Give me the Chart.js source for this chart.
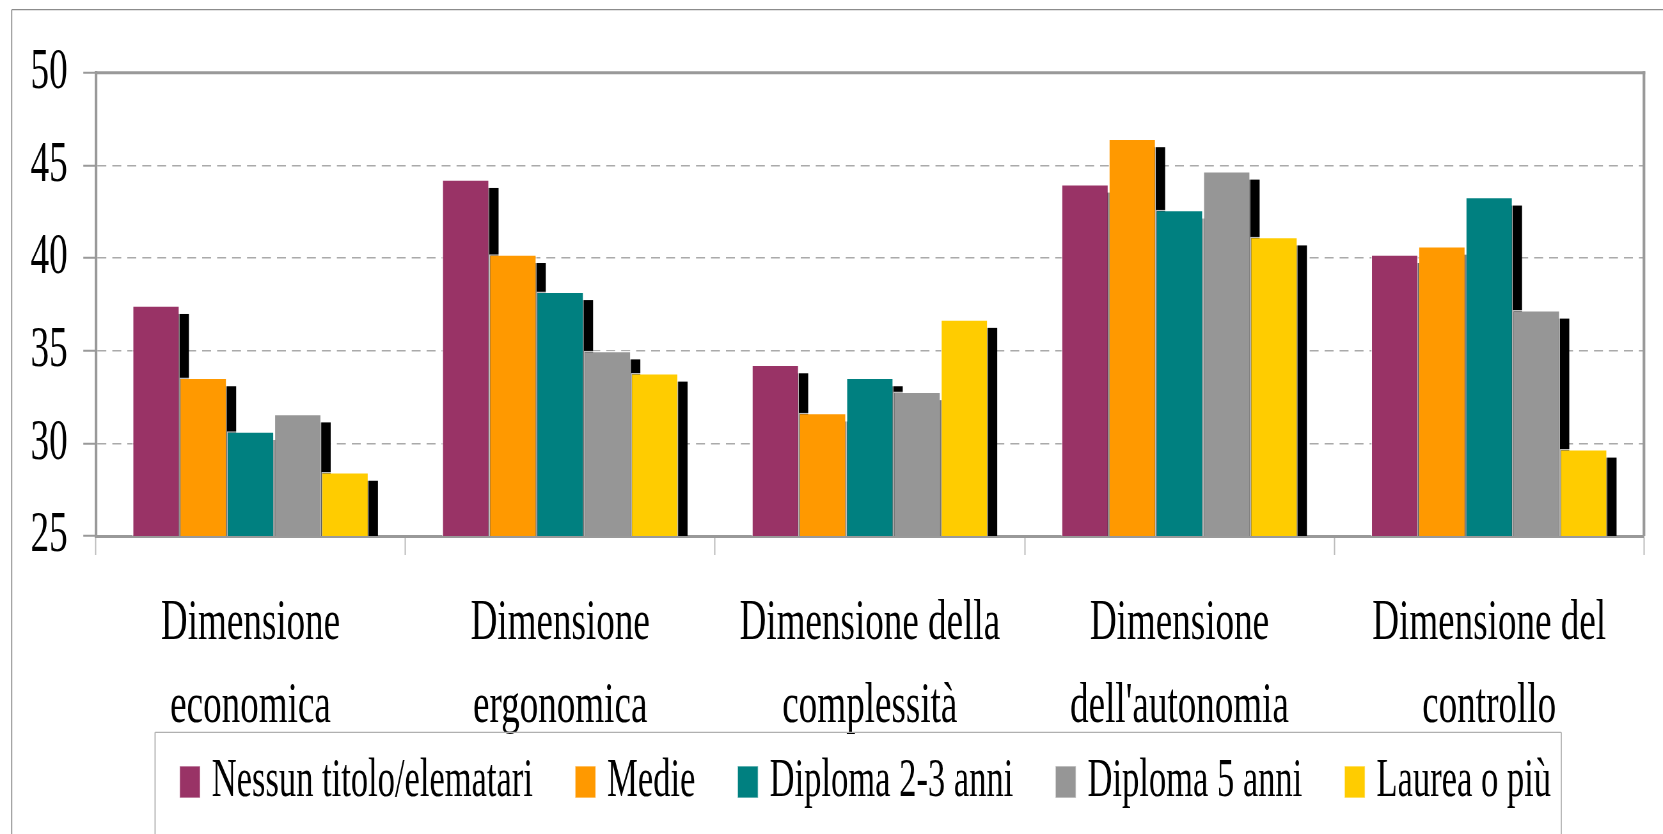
<!DOCTYPE html>
<html>
<head>
<meta charset="utf-8">
<script src="https://cdn.jsdelivr.net/npm/chart.js@4.4.0/dist/chart.umd.min.js"></script>
<style>
  html, body { margin: 0; padding: 0; background: #fff; overflow: hidden; }
  /* the original text is a horizontally squeezed Times: draw wide, then squeeze the whole canvas */
  #wrap { width: 2600px; height: 926px; transform: scaleX(0.6396); transform-origin: 0 0; }
</style>
</head>
<body>
<div id="wrap"><canvas id="chart"></canvas></div>
<script>
const categories = [
  ['Dimensione', 'economica'],
  ['Dimensione', 'ergonomica'],
  ['Dimensione della', 'complessità'],
  ['Dimensione', "dell'autonomia"],
  ['Dimensione del', 'controllo']
];
const seriesNames = ['Nessun titolo/elematari', 'Medie', 'Diploma 2-3 anni', 'Diploma 5 anni', 'Laurea o più'];
const seriesColors = ['#993366', '#FF9900', '#008080', '#969696', '#FFCC00'];

const nessun    = [37.45, 44.25, 34.25, 44.0, 40.2];
const medie     = [33.55, 40.2, 31.65, 46.45, 40.65];
const diploma23 = [30.65, 38.2, 33.55, 42.6, 43.3];
const diploma5  = [31.6, 35.0, 32.8, 44.7, 37.2];
const laurea    = [28.45, 33.8, 36.7, 41.15, 29.7];
const yTicks = [25, 30, 35, 40, 45, 50];

const seriesValues = [nessun, medie, diploma23, diploma5, laurea];
const font = 'Liberation Serif';
const legendFont = 54;
const legendPad = 66;
const swatch = 32;

// black drop shadow behind each bar + frames + legend swatches
const framePlugin = {
  id: 'frame',
  afterLayout(chart) {
    // legend sits partly over the x labels area in the original
    const lg = chart.legend;
    const shift = (782 - legendPad - legendFont / 2) - lg.top;
    lg.top += shift;
    lg.bottom += shift;
    lg.left -= 7;
    lg.right -= 7;
  },
  beforeDatasetsDraw(chart) {
    const ctx = chart.ctx;
    const a = chart.chartArea;
    ctx.save();
    ctx.beginPath();
    ctx.rect(a.left, a.top, a.right - a.left, a.bottom - a.top);
    ctx.clip();
    ctx.fillStyle = '#000';
    chart.data.datasets.forEach((ds, i) => {
      chart.getDatasetMeta(i).data.forEach(bar => {
        const p = bar.getProps(['x', 'y', 'base', 'width'], true);
        const top = p.y + 8.7;
        ctx.fillRect(p.x - p.width / 2 + 14.5, top, p.width, p.base - top);
      });
    });
    ctx.restore();
  },
  afterDraw(chart) {
    const ctx = chart.ctx;
    const a = chart.chartArea;
    ctx.save();
    // top and right of the plot frame
    ctx.strokeStyle = '#999';
    ctx.lineWidth = 3;
    ctx.beginPath(); ctx.moveTo(a.left, a.top); ctx.lineTo(a.right + 2, a.top); ctx.stroke();
    ctx.lineWidth = 4.2;
    ctx.beginPath(); ctx.moveTo(a.right, a.top - 1.5); ctx.lineTo(a.right, a.bottom); ctx.stroke();
    // outer frame
    ctx.strokeStyle = '#8c8c8c';
    ctx.lineWidth = 1.2;
    ctx.beginPath(); ctx.moveTo(18.3, 9.7); ctx.lineTo(chart.width + 5, 9.7); ctx.stroke();
    ctx.lineWidth = 1.8;
    ctx.beginPath(); ctx.moveTo(18.3, 9.7); ctx.lineTo(18.3, chart.height + 5); ctx.stroke();
    // legend swatches (wider than the gap Chart.js leaves before the text)
    const hb = chart.legend.legendHitBoxes;
    hb.forEach((h, i) => {
      const y = h.top + (h.height - swatch) / 2;
      ctx.fillStyle = seriesColors[i];
      ctx.fillRect(h.left, y, swatch, swatch);
      ctx.strokeStyle = 'rgba(255,255,255,0.5)';
      ctx.lineWidth = 1.5;
      ctx.strokeRect(h.left, y, swatch, swatch);
    });
    // legend box
    const first = hb[0], last = hb[hb.length - 1];
    const left = first.left - 38.5, right = last.left + last.width + 16, top = 732.3;
    ctx.strokeStyle = '#b0b0b0';
    ctx.lineWidth = 1.2;
    ctx.beginPath(); ctx.moveTo(left, top); ctx.lineTo(right, top); ctx.stroke();
    ctx.lineWidth = 1.8;
    ctx.beginPath();
    ctx.moveTo(left, chart.height + 5); ctx.lineTo(left, top);
    ctx.moveTo(right, top); ctx.lineTo(right, chart.height + 5);
    ctx.stroke();
    ctx.restore();
  }
};

new Chart(document.getElementById('chart'), {
  type: 'bar',
  data: {
    labels: categories,
    datasets: seriesNames.map((name, i) => ({
      label: name,
      data: seriesValues[i],
      backgroundColor: seriesColors[i],
      borderColor: 'rgba(255,255,255,0.75)',
      borderWidth: 1.5,
      categoryPercentage: 0.763,
      barPercentage: 1
    }))
  },
  options: {
    responsive: true,
    maintainAspectRatio: false,
    animation: false,
    layout: { padding: { left: 20, right: 29.7, top: 72.7, bottom: 0 } },
    plugins: {
      tooltip: { enabled: false },
      legend: {
        position: 'bottom',
        fullSize: false,
        labels: {
          font: { family: font, size: legendFont },
          color: '#000',
          boxWidth: 23,
          boxHeight: swatch,
          padding: legendPad,
          generateLabels(chart) {
            return Chart.defaults.plugins.legend.labels.generateLabels(chart).map(item => ({
              ...item, fillStyle: 'rgba(0,0,0,0)', strokeStyle: 'rgba(0,0,0,0)', lineWidth: 0
            }));
          }
        }
      }
    },
    scales: {
      x: {
        afterFit(scale) { scale.height = 260; },
        grid: { drawOnChartArea: false, drawTicks: true, tickLength: 19, tickColor: '#bbb', tickWidth: 2 },
        border: { display: true, color: '#999', width: 3 },
        ticks: { font: { family: font, size: 58, lineHeight: 1.43 }, color: '#000', padding: 27.4, maxRotation: 0 }
      },
      y: {
        min: 25,
        max: 50,
        afterFit(scale) { scale.width = 129.6; },
        afterBuildTicks(scale) { scale.ticks = yTicks.map(v => ({ value: v })); },
        grid: { color: '#aaa', lineWidth: 1.5, tickColor: '#999', tickWidth: 2, tickLength: 19.4, tickBorderDash: [] },
        border: { display: true, color: '#999', width: 4.2, dash: [14, 9.4] },
        ticks: { font: { family: font, size: 58 }, color: '#000', padding: 24.4 }
      }
    }
  },
  plugins: [framePlugin]
});
</script>
</body>
</html>
